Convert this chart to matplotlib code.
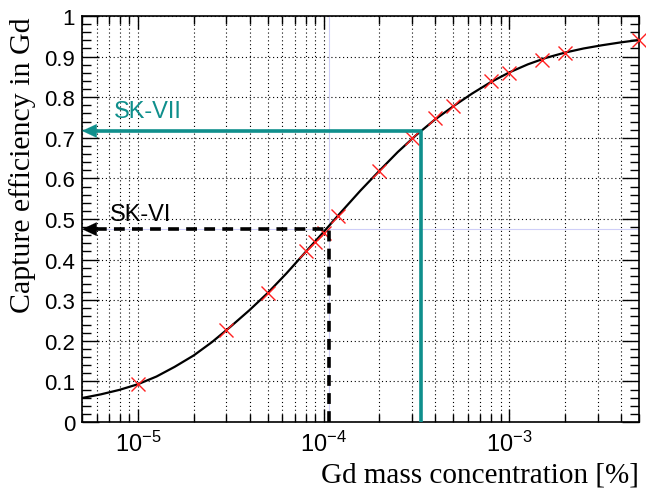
import matplotlib

matplotlib.use("Agg")
import matplotlib.pyplot as plt  # noqa: E402
import numpy as np  # noqa: E402
from matplotlib.ticker import LogLocator, MultipleLocator, NullFormatter  # noqa: E402

# simulated capture efficiency points
conc_points = [1e-5, 3e-5, 5e-5, 8e-5, 9e-5, 1e-4, 1.2e-4, 2e-4, 3e-4,
               4e-4, 5e-4, 8e-4, 1e-3, 1.5e-3, 2e-3, 5e-3]
eff_points = [0.094, 0.227, 0.318, 0.421, 0.443, 0.466, 0.508, 0.619, 0.699,
              0.749, 0.779, 0.839, 0.860, 0.892, 0.908, 0.942]

# fitted curve, sampled every 0.1 decade
curve_conc = [5.0e-6, 6.31e-6, 7.94e-6, 1.0e-5, 1.26e-5, 1.58e-5, 2.0e-5, 2.51e-5,
              3.16e-5, 3.98e-5, 5.01e-5, 6.31e-5, 7.94e-5, 1.0e-4, 1.26e-4, 1.58e-4,
              2.0e-4, 2.51e-4, 3.16e-4, 3.98e-4, 5.01e-4, 6.31e-4, 7.94e-4, 1.0e-3,
              1.26e-3, 1.58e-3, 2.0e-3, 2.51e-3, 3.16e-3, 3.98e-3, 5.0e-3]
curve_eff = [0.059, 0.068, 0.079, 0.093, 0.112, 0.136, 0.164, 0.197,
             0.235, 0.275, 0.318, 0.366, 0.417, 0.468, 0.520, 0.570,
             0.619, 0.665, 0.707, 0.745, 0.778, 0.809, 0.837, 0.861,
             0.881, 0.897, 0.910, 0.920, 0.928, 0.935, 0.941]

# working points of the two phases
phase_labels = ["SK-VI", "SK-VII"]
phase_conc = [1.076e-4, 3.35e-4]
phase_eff = [0.475, 0.717]

TEAL = "#0f8f8c"
SANS = ["Liberation Sans", "DejaVu Sans"]
SERIF = ["Liberation Serif", "DejaVu Serif"]
HEAD = "-|>,head_length=0.75,head_width=0.35"

plt.rcParams["font.family"] = SANS
plt.rcParams["mathtext.default"] = "regular"

fig = plt.figure(figsize=(6.46, 4.89), dpi=100)
ax = fig.add_axes([0.1269, 0.135, 0.8623, 0.8302])

xmin, xmax = 5e-6, 5e-3
ax.set_xscale("log")
ax.set_xlim(xmin, xmax)
ax.set_ylim(0, 1)

# faint crosshair through the SK-VI point
ax.axvline(phase_conc[0], color="#cfcff8", lw=0.8, zorder=1)
ax.axhline(phase_eff[0], color="#cfcff8", lw=0.8, zorder=1)

ax.plot(curve_conc, curve_eff, color="black", lw=1.6, zorder=3)
ax.plot(conc_points, eff_points, ls="none", marker="x", ms=10, mew=1.0,
        color="#ff2020", zorder=4, clip_on=False)

# SK-VI: dashed black guide with arrow to the y axis
x6, y6 = phase_conc[0], phase_eff[0]
ax.plot([x6, x6, xmin * 1.12], [0, y6, y6], color="black", lw=2.6,
        ls=(0, (3, 2)), zorder=5)
ax.annotate("", xy=(xmin, y6), xytext=(16, 0), textcoords="offset points",
            arrowprops=dict(arrowstyle=HEAD, mutation_scale=14,
                            color="black", lw=0.1, shrinkA=0, shrinkB=0),
            zorder=6)
ax.text(7.1e-6, 0.512, phase_labels[0], fontsize=17, color="black",
        ha="left", va="center", zorder=6)

# SK-VII: solid teal guide with arrow to the y axis
x7, y7 = phase_conc[1], phase_eff[1]
ax.plot([x7, x7, xmin * 1.12], [0, y7, y7], color=TEAL, lw=2.6,
        solid_capstyle="butt", zorder=5)
ax.annotate("", xy=(xmin, y7), xytext=(16, 0), textcoords="offset points",
            arrowprops=dict(arrowstyle=HEAD, mutation_scale=14,
                            color=TEAL, lw=0.1, shrinkA=0, shrinkB=0),
            zorder=6)
ax.text(7.4e-6, 0.766, phase_labels[1], fontsize=17, color=TEAL,
        ha="left", va="center", zorder=6)

# axes styling
ax.xaxis.set_major_locator(LogLocator(base=10, numticks=10))
ax.xaxis.set_minor_locator(LogLocator(base=10, subs=range(2, 10), numticks=20))
ax.xaxis.set_major_formatter(lambda v, _: f"$10^{{{int(round(np.log10(v)))}}}$")
ax.xaxis.set_minor_formatter(NullFormatter())
ax.yaxis.set_major_locator(MultipleLocator(0.1))
ax.yaxis.set_minor_locator(MultipleLocator(0.02))
ax.yaxis.set_major_formatter(lambda v, _: f"{v:g}")

ax.grid(True, which="both", axis="x", color="black", lw=0.8, ls=(0, (1, 2.5)))
ax.grid(True, which="major", axis="y", color="black", lw=0.8, ls=(0, (1, 2.5)))
ax.set_axisbelow(True)

ax.tick_params(which="both", direction="in", top=True, right=True,
               width=1.0, colors="black")
ax.tick_params(axis="y", which="major", length=12, pad=5, labelsize=16)
ax.tick_params(axis="y", which="minor", length=6.5)
ax.tick_params(axis="x", which="major", length=9.5, pad=6, labelsize=17)
ax.tick_params(axis="x", which="minor", length=6)
for sp in ax.spines.values():
    sp.set_linewidth(1.2)

ax.set_xlabel("Gd mass concentration [%]", loc="right", fontsize=21,
              family=SERIF, labelpad=4)
ax.set_ylabel("Capture efficiency in Gd", loc="top", fontsize=21.5,
              family=SERIF, labelpad=6)

fig.savefig("out.png", dpi=100)
plt.close(fig)
